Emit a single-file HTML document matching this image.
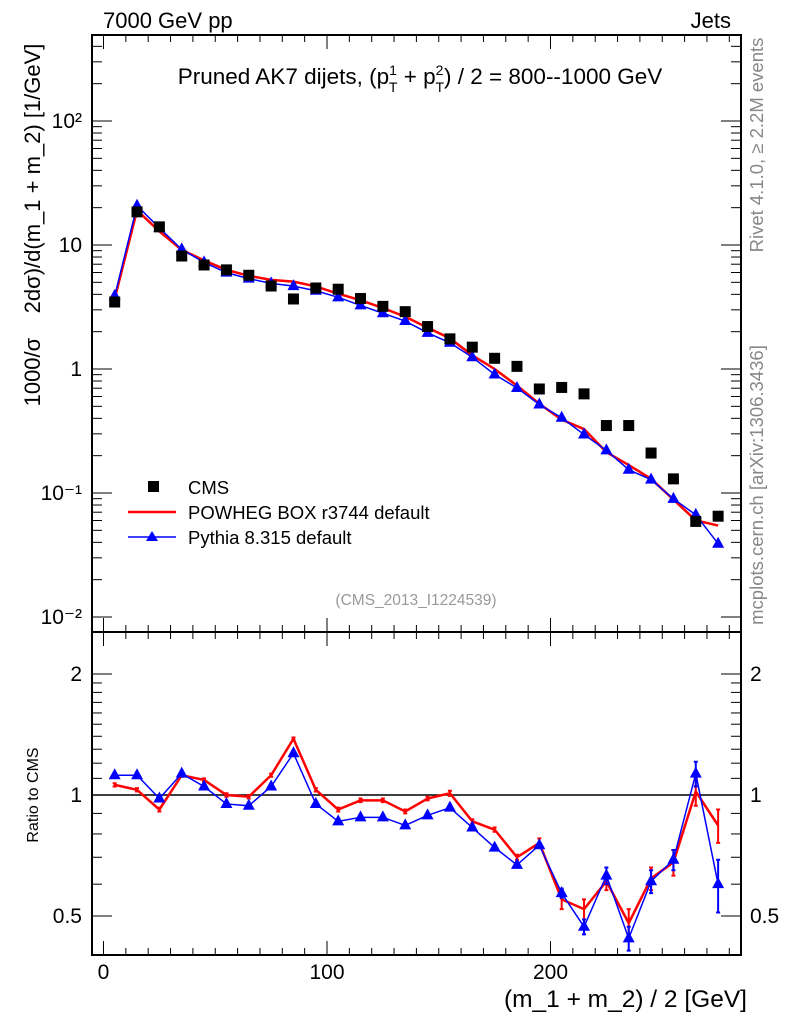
<!DOCTYPE html>
<html><head><meta charset="utf-8"><style>
body{margin:0;background:#fff;}
svg{display:block;font-family:"Liberation Sans",sans-serif;}
</style></head><body>
<svg id="chart" width="786" height="1024" viewBox="0 0 786 1024" xmlns="http://www.w3.org/2000/svg">
<rect x="0" y="0" width="786" height="1024" fill="#fff"/>
<text x="103" y="28" font-size="22">7000 GeV pp</text>
<text x="731" y="28" font-size="22" text-anchor="end">Jets</text>
<text x="420" y="84" font-size="22.5" text-anchor="middle">Pruned AK7 dijets, (p<tspan font-size="14" dy="-9">1</tspan><tspan font-size="14" dx="-8" dy="17">T</tspan><tspan dy="-8"> + p</tspan><tspan font-size="14" dy="-9">2</tspan><tspan font-size="14" dx="-8" dy="17">T</tspan><tspan dy="-8">) / 2 = 800--1000 GeV</tspan></text>
<text transform="translate(40,225) rotate(-90)" font-size="22" text-anchor="middle" xml:space="preserve">1000/σ    2dσ)/d(m_1 + m_2) [1/GeV]</text>
<text transform="translate(763,145) rotate(-90)" font-size="18.5" fill="#888" text-anchor="middle">Rivet 4.1.0, ≥ 2.2M events</text>
<text transform="translate(763,485) rotate(-90)" font-size="18.5" fill="#888" text-anchor="middle">mcplots.cern.ch [arXiv:1306.3436]</text>
<text x="416" y="605" font-size="15.5" fill="#999" text-anchor="middle">(CMS_2013_I1224539)</text>
<text transform="translate(38,795) rotate(-90)" font-size="16" text-anchor="middle">Ratio to CMS</text>
<text x="747" y="1007" font-size="24.5" text-anchor="end">(m_1 + m_2) / 2 [GeV]</text>
<g id="axes"></g>
<g id="marks"></g>
<g id="legend">
  <rect x="148" y="481" width="11" height="11" fill="#000"/>
  <text x="188" y="494" font-size="18.5">CMS</text>
  <line x1="128" y1="512" x2="176" y2="512" stroke="red" stroke-width="2.5"/>
  <text x="188" y="519" font-size="18.5">POWHEG BOX r3744 default</text>
  <line x1="128" y1="537" x2="176" y2="537" stroke="#00f" stroke-width="1.5"/>
  <polygon points="152,531 158,541 146,541" fill="#00f"/>
  <text x="188" y="544" font-size="18.5">Pythia 8.315 default</text>
</g>
</svg>
<script>
const binCenters=[5,15,25,35,45,55,65,75,85,95,105,115,125,135,145,155,165,175,185,195,205,215,225,235,245,255,265,275];
const cmsValues=[3.47,18.5,14,8.15,6.9,6.3,5.7,4.67,3.67,4.5,4.4,3.7,3.2,2.9,2.2,1.75,1.5,1.22,1.05,0.69,0.71,0.63,0.35,0.35,0.21,0.13,0.059,0.065];
const powhegRatio=[1.06,1.03,0.92,1.12,1.09,1.0,0.99,1.12,1.38,1.03,0.92,0.97,0.97,0.91,0.98,1.01,0.86,0.82,0.70,0.76,0.55,0.52,0.61,0.48,0.62,0.68,1.02,0.84];
const pythiaRatio=[1.12,1.12,0.98,1.13,1.05,0.95,0.94,1.05,1.27,0.95,0.86,0.88,0.88,0.84,0.89,0.93,0.83,0.74,0.67,0.75,0.57,0.47,0.63,0.44,0.61,0.69,1.13,0.60];
const powhegErr=[0.01,0.01,0.01,0.01,0.01,0.01,0.01,0.01,0.01,0.01,0.01,0.01,0.01,0.01,0.01,0.015,0.01,0.01,0.01,0.02,0.03,0.03,0.03,0.04,0.04,0.05,0.08,0.08];
const pythiaErr=[0.01,0.01,0.01,0.01,0.01,0.01,0.01,0.01,0.01,0.01,0.01,0.01,0.01,0.01,0.01,0.01,0.01,0.01,0.01,0.01,0.015,0.02,0.03,0.03,0.04,0.04,0.08,0.09];
const xTicks=[0,100,200];
const mainTicks=[0.01,0.1,1,10,100];
const mainTickLabels=["10⁻²","10⁻¹","1","10","10²"];
const ratioTicks=[0.5,1,2];
const ratioTickLabels=["0.5","1","2"];

const NS="http://www.w3.org/2000/svg";
const L=92,R=741,T=35,MB=632,RB=955;
const X=v=>103.5+2.235*v;
const Y=v=>369-124*Math.log10(v);
const YR=v=>795-121*Math.log2(v);
const axes=document.getElementById('axes'),marks=document.getElementById('marks');
function mk(tag,attrs,parent){const e=document.createElementNS(NS,tag);for(const k in attrs)e.setAttribute(k,attrs[k]);parent.appendChild(e);return e;}

let f1=mk('rect',{x:L,y:T,width:R-L,height:MB-T,fill:'none',stroke:'#000','stroke-width':2},axes);


let f2=mk('rect',{x:L,y:MB,width:R-L,height:RB-MB,fill:'none',stroke:'#000','stroke-width':2},axes);


let ref=mk('line',{x1:L,x2:R,y1:YR(1),y2:YR(1),stroke:'#000','stroke-width':1.5},axes);



for(let v=0;v<=280;v+=10){const x=X(v);const major=v%100===0;const len=major?14:7;
  for(const [b,t] of [[MB,T],[RB,MB]]){
    const t1=mk('line',{x1:x,x2:x,y1:b,y2:b-len,stroke:'#000','stroke-width':1},axes);
    
    
    const t2=mk('line',{x1:x,x2:x,y1:t,y2:t+len,stroke:'#000','stroke-width':1},axes);
    
    
  }}
xTicks.forEach(v=>{const t=mk('text',{x:X(v),y:979,'font-size':21,'text-anchor':'middle'},axes);t.textContent=v;
  
  });
for(let d=-2;d<=2;d++){for(let m=1;m<=9;m++){const v=m*Math.pow(10,d);const y=Y(v);if(y<T||y>MB)continue;const len=m===1?20:10;
  for(const [x0,s] of [[L,1],[R,-1]]){const t=mk('line',{x1:x0,x2:x0+s*len,y1:y,y2:y,stroke:'#000','stroke-width':1},axes);
    
    }}}
for(let m=1;m<=5;m++){const y=Y(m*1000);if(y<T)continue;for(const [x0,s] of [[L,1],[R,-1]]){const t=mk('line',{x1:x0,x2:x0+s*(m===1?20:10),y1:y,y2:y,stroke:'#000'},axes);
  
  }}
mainTicks.forEach((v,i)=>{const t=mk('text',{x:82,y:Y(v)+7,'font-size':21,'text-anchor':'end'},axes);t.textContent=mainTickLabels[i];
  
  });
[0.5,0.6,0.7,0.8,0.9,1,1.1,1.2,1.3,1.4,1.5,1.6,1.7,1.8,1.9,2].forEach(v=>{const y=YR(v);const major=ratioTicks.includes(v);const len=major?20:10;
  for(const [x0,s] of [[L,1],[R,-1]]){const t=mk('line',{x1:x0,x2:x0+s*len,y1:y,y2:y,stroke:'#000'},axes);
    
    }});
ratioTicks.forEach((v,i)=>{
  const t=mk('text',{x:82,y:YR(v)+7,'font-size':21,'text-anchor':'end'},axes);t.textContent=ratioTickLabels[i];
  
  
  const t2=mk('text',{x:750,y:YR(v)+7,'font-size':21},axes);t2.textContent=ratioTickLabels[i];
  
  });

const powhegMain=cmsValues.map((c,i)=>c*powhegRatio[i]);
const pythiaMain=cmsValues.map((c,i)=>c*pythiaRatio[i]);
function series(vals,yf,color,w,name,errs,tri){
  const pts=binCenters.map((b,i)=>X(b)+','+yf(vals[i])).join(' ');
  const pl=mk('polyline',{points:pts,fill:'none',stroke:color,'stroke-width':w},marks);
  
  
  binCenters.forEach((b,i)=>{const x=X(b),y=yf(vals[i]);
    if(errs){const e=errs[i];const y1=yf(vals[i]+e),y2=yf(Math.max(vals[i]-e,1e-6));
      const el=mk('path',{d:`M${x},${y1}V${y2}M${x-2},${y1}h4M${x-2},${y2}h4`,stroke:color,'stroke-width':2,fill:'none'},marks);
      
      }
    if(tri){const p=mk('polygon',{points:`${x},${y-7} ${x+6},${y+4} ${x-6},${y+4}`,fill:color},marks);
      
      }
  });
}
series(powhegMain,Y,'red',2.5,'powheg-main',null,false);
series(pythiaMain,Y,'#00f',1.5,'pythia-main',null,true);
binCenters.forEach((b,i)=>{const r=mk('rect',{x:X(b)-5.5,y:Y(cmsValues[i])-5.5,width:11,height:11,fill:'#000'},marks);
  
  });
series(powhegRatio,YR,'red',2.5,'powheg-ratio',powhegErr,false);
series(pythiaRatio,YR,'#00f',1.5,'pythia-ratio',pythiaErr,true);
</script>
</body></html>
